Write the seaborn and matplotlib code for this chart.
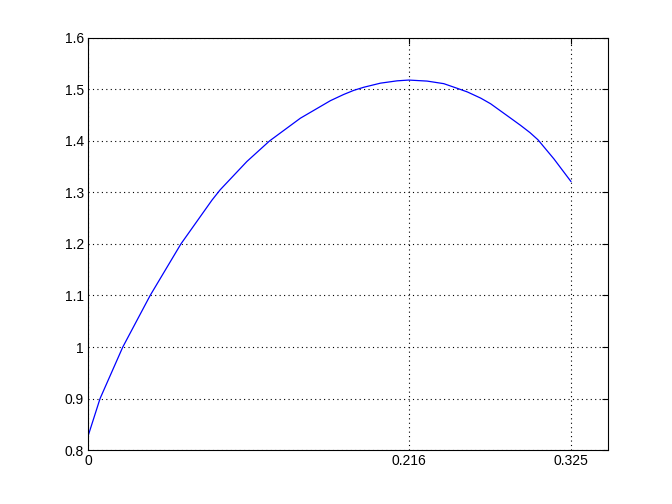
import matplotlib

matplotlib.use("Agg")
import matplotlib.pyplot as plt
import pandas as pd
import seaborn as sns

# values
x_values = [0.0, 0.0081, 0.0234, 0.0418, 0.0625, 0.0834, 0.0889, 0.1069,
            0.1222, 0.1429, 0.1631, 0.1720, 0.1788, 0.1855, 0.1968, 0.2080,
            0.2158, 0.2282, 0.2394, 0.2484, 0.2552, 0.2642, 0.2709, 0.2844,
            0.2911, 0.2974, 0.3028, 0.3135, 0.325]
y_values = [0.827, 0.9, 1.0, 1.1, 1.2, 1.285, 1.305, 1.360,
            1.4, 1.444, 1.478, 1.490, 1.498, 1.504, 1.512, 1.5165,
            1.518, 1.516, 1.511, 1.502, 1.495, 1.483, 1.472, 1.444,
            1.430, 1.416, 1.402, 1.365, 1.321]

x_ticks = [0, 0.216, 0.325]
x_tick_labels = ["0", "0.216", "0.325"]
y_ticks = [0.8, 0.9, 1.0, 1.1, 1.2, 1.3, 1.4, 1.5, 1.6]
y_tick_labels = ["0.8", "0.9", "1", "1.1", "1.2", "1.3", "1.4", "1.5", "1.6"]

sns.set_style("white")
plt.rcParams["font.family"] = ["Liberation Sans", "DejaVu Sans"]

curve = pd.DataFrame({"x": x_values, "y": y_values})

fig = plt.figure(figsize=(6.72, 5.04), dpi=100)
ax = fig.add_axes([0.131, 0.107, 0.774, 0.818])
sns.lineplot(data=curve, x="x", y="y", ax=ax, color="#0000ff", linewidth=0.9,
             sort=False)

ax.set_xlim(0, 0.35)
ax.set_ylim(0.8, 1.6)
ax.set_xticks(x_ticks)
ax.set_xticklabels(x_tick_labels)
ax.set_yticks(y_ticks)
ax.set_yticklabels(y_tick_labels)
ax.set_xlabel("")
ax.set_ylabel("")
ax.grid(True, color="black", linestyle=(0, (1, 3)), linewidth=0.8)
ax.tick_params(direction="in", length=4, width=0.8, colors="black",
               labelsize=10, top=True, right=True, pad=3)
for spine in ax.spines.values():
    spine.set_color("black")
    spine.set_linewidth(0.8)

fig.savefig("out.png", dpi=100)
